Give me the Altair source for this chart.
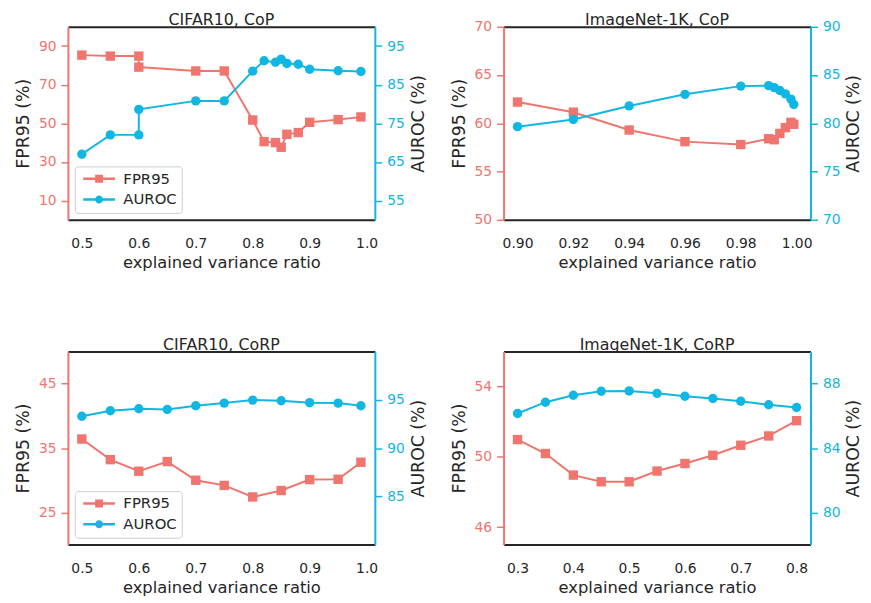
import altair as alt
import pandas as pd

SALMON = '#F0756E'
CYAN = '#12B6E3'
DARK = '#262626'
FONT = 'DejaVu Sans'

# ---------------- data ----------------
cifar_cop_x = [0.5, 0.55, 0.6, 0.6, 0.7, 0.75, 0.8, 0.82, 0.84, 0.85, 0.86, 0.88, 0.9, 0.95, 0.99]
cifar_cop_fpr = [85.3, 84.8, 84.8, 79.1, 77.1, 77.1, 51.7, 40.5, 40.0, 37.6, 44.3, 45.2, 50.5, 51.9, 53.3]
cifar_cop_auroc = [67.0, 72.0, 72.0, 78.6, 80.8, 80.8, 88.5, 91.2, 90.8, 91.6, 90.5, 90.3, 89.0, 88.6, 88.4]

imnet_cop_x = [0.90, 0.92, 0.94, 0.96, 0.98, 0.99, 0.992, 0.994, 0.996, 0.998, 0.999]
imnet_cop_fpr = [62.2, 61.15, 59.3, 58.1, 57.8, 58.4, 58.3, 58.95, 59.55, 60.1, 59.9]
imnet_cop_auroc = [79.65, 80.4, 81.8, 83.0, 83.85, 83.9, 83.7, 83.4, 83.05, 82.5, 81.95]

cifar_corp_x = [0.5, 0.55, 0.6, 0.65, 0.7, 0.75, 0.8, 0.85, 0.9, 0.95, 0.99]
cifar_corp_fpr = [36.4, 33.2, 31.4, 32.9, 30.0, 29.2, 27.4, 28.4, 30.1, 30.15, 32.8]
cifar_corp_auroc = [93.3, 93.86, 94.07, 94.0, 94.38, 94.66, 94.97, 94.9, 94.7, 94.66, 94.38]

imnet_corp_x = [0.3, 0.35, 0.4, 0.45, 0.5, 0.55, 0.6, 0.65, 0.7, 0.75, 0.8]
imnet_corp_fpr = [50.98, 50.19, 48.96, 48.58, 48.58, 49.19, 49.62, 50.09, 50.66, 51.19, 52.06]
imnet_corp_auroc = [86.15, 86.85, 87.28, 87.53, 87.55, 87.4, 87.22, 87.08, 86.91, 86.69, 86.52]

series_names = ['FPR95', 'AUROC']

# legend symbols: line with marker in the middle
SQ_PATH = "M-1,-0.3L2,-0.3L2,0.3L-1,0.3Z M2,-1L4,-1L4,1L2,1Z M4,-0.3L7,-0.3L7,0.3L4,0.3Z"
CI_PATH = ("M-1,-0.3L2.1,-0.3L2.1,0.3L-1,0.3Z M4,0A1,1,0,1,1,2,0A1,1,0,1,1,4,0Z "
           "M3.9,-0.3L7,-0.3L7,0.3L3.9,0.3Z")


def y_axis(color, values, orient):
    kw = dict(
        orient=orient, values=values, grid=False, domainColor=color, domainWidth=2,
        tickColor=color, tickSize=7, tickWidth=1.5, labelColor=color, labelFontSize=14,
        labelPadding=5, labelFlush=False, labelOverlap=False, titleColor=DARK,
        titleFontSize=17.5, titleFontWeight='normal', titlePadding=6, labelFont=FONT, titleFont=FONT,
    )
    if orient == 'right':
        kw.update(titleAngle=270, titleBaseline='top', titlePadding=5)
    return alt.Axis(**kw)


def panel(title, xs, fpr, auroc, xdom, xticks, xfmt, ldom, lticks, rdom, rticks, legend, toff):
    df = pd.DataFrame({'x': xs, 'fpr': fpr, 'auroc': auroc, 'i': list(range(len(xs)))})
    base = alt.Chart(df)
    xscale = alt.Scale(domain=xdom, nice=False, zero=False)
    x_bottom = alt.X('x:Q', scale=xscale, axis=alt.Axis(
        orient='bottom', values=xticks, format=xfmt, title='explained variance ratio', ticks=False,
        tickSize=0, domainColor=DARK, domainWidth=2, labelColor=DARK, labelFontSize=14,
        labelPadding=17, labelFlush=False, labelOverlap=False, titleFontSize=16.5, titleColor=DARK,
        titleFontWeight='normal', titlePadding=4, grid=False, labelFont=FONT, titleFont=FONT))
    x_top = alt.X('x:Q', scale=xscale, axis=alt.Axis(
        orient='top', values=xticks, labels=False, ticks=False, tickSize=0, labelPadding=0,
        title=None, domainColor=DARK, domainWidth=2, grid=False, minExtent=0, maxExtent=0, offset=0))
    yl = alt.Y('fpr:Q', scale=alt.Scale(domain=ldom, nice=False, zero=False),
               axis=y_axis(SALMON, lticks, 'left'), title='FPR95 (%)')
    yr = alt.Y('auroc:Q', scale=alt.Scale(domain=rdom, nice=False, zero=False),
               axis=y_axis(CYAN, rticks, 'right'), title='AUROC (%)')

    fpr_line = base.mark_line(
        color=SALMON, strokeWidth=2,
        point=alt.OverlayMarkDef(shape='square', size=90, filled=True, color=SALMON, opacity=1)
    ).encode(x=x_bottom, y=yl, order=alt.Order('i:Q'))

    au_line = base.mark_line(
        color=CYAN, strokeWidth=2,
        point=alt.OverlayMarkDef(shape='circle', size=90, filled=True, color=CYAN, opacity=1)
    ).encode(x=x_top, y=yr, order=alt.Order('i:Q'))

    left_layers = [fpr_line]
    if legend:
        leg = alt.Legend(
            title=None, orient='bottom-left', offset=7, padding=5, strokeColor='#cccccc',
            fillColor='white', cornerRadius=3, labelFontSize=15, labelColor=DARK, labelFont=FONT,
            symbolSize=64, symbolStrokeWidth=0, symbolOpacity=1, labelOffset=29, rowPadding=5)
        leg_layer = base.transform_calculate(s='"FPR95"').transform_filter('datum.x < -1000').mark_point(
            filled=True, opacity=1
        ).encode(
            x=x_bottom, y=yl,
            color=alt.Color('s:N', scale=alt.Scale(domain=series_names, range=[SALMON, CYAN]), legend=leg),
            shape=alt.Shape('s:N', scale=alt.Scale(domain=series_names, range=[SQ_PATH, CI_PATH]), legend=leg),
        )
        left_layers.append(leg_layer)
    left = alt.layer(*left_layers)
    right = alt.layer(au_line)
    return alt.layer(left, right).resolve_scale(y='independent').resolve_axis(
        x='independent', y='independent'
    ).properties(
        width=310, height=195,
        title=alt.TitleParams(title, fontSize=16, fontWeight='normal', color=DARK, offset=toff,
                              font=FONT, anchor='middle', frame='group'),
    )


p1 = panel('CIFAR10, CoP', cifar_cop_x, cifar_cop_fpr, cifar_cop_auroc, [0.4755, 1.0145],
           [0.5, 0.6, 0.7, 0.8, 0.9, 1.0], '.1f', [0, 100], [10, 30, 50, 70, 90],
           [50, 100], [55, 65, 75, 85, 95], True, -1)
p2 = panel('ImageNet-1K, CoP', imnet_cop_x, imnet_cop_fpr, imnet_cop_auroc, [0.895, 1.005],
           [0.90, 0.92, 0.94, 0.96, 0.98, 1.00], '.2f', [50, 70], [50, 55, 60, 65, 70],
           [70, 90], [70, 75, 80, 85, 90], False, -8)
p3 = panel('CIFAR10, CoRP', cifar_corp_x, cifar_corp_fpr, cifar_corp_auroc, [0.4755, 1.0145],
           [0.5, 0.6, 0.7, 0.8, 0.9, 1.0], '.1f', [20, 50], [25, 35, 45],
           [80, 100], [85, 90, 95], True, -1)
p4 = panel('ImageNet-1K, CoRP', imnet_corp_x, imnet_corp_fpr, imnet_corp_auroc, [0.275, 0.825],
           [0.3, 0.4, 0.5, 0.6, 0.7, 0.8], '.1f', [45, 56], [46, 50, 54],
           [78, 90], [80, 84, 88], False, -1)

chart = alt.concat(
    p1, p2, p3, p4, columns=2, spacing=alt.RowColnumber(row=133, column=130), bounds='flush'
).resolve_scale(color='independent', shape='independent').properties(
    padding={'left': 5.5, 'top': 0, 'right': 0, 'bottom': 0}
).configure_view(stroke=None).configure(font=FONT, background='white')

chart.save('out.html', embed_options={'renderer': 'svg', 'actions': False})
